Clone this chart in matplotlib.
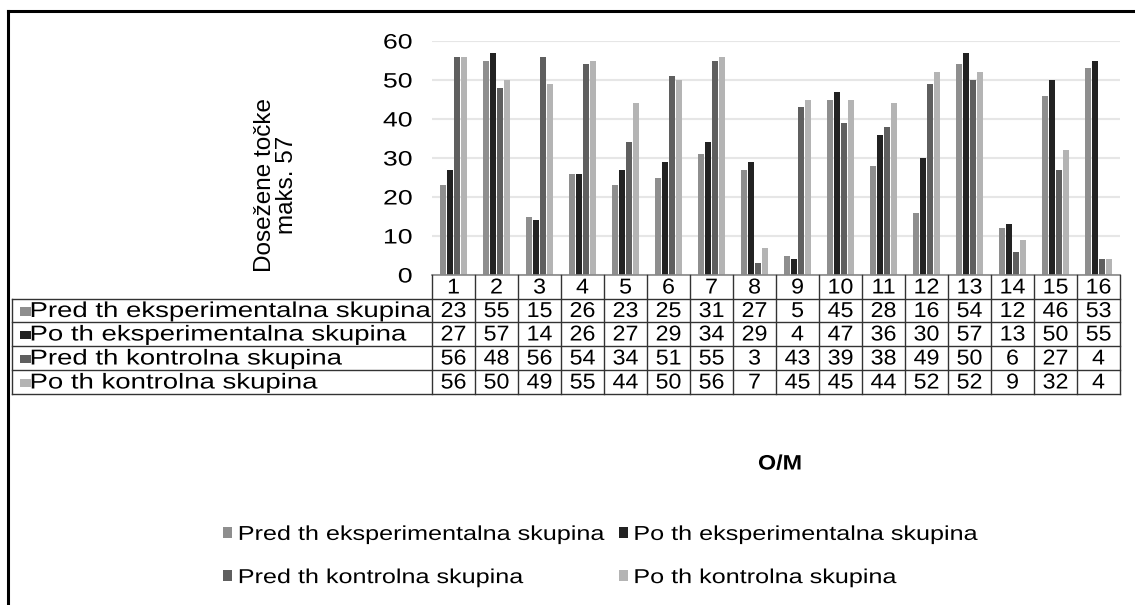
import matplotlib
matplotlib.use("Agg")
import matplotlib.pyplot as plt
from matplotlib.lines import Line2D
from matplotlib.patches import Patch
from matplotlib.patheffects import AbstractPathEffect
from matplotlib.transforms import Affine2D

plt.rcParams['font.family'] = ['Liberation Sans', 'DejaVu Sans']

categories = [str(i) for i in range(1, 17)]
series_names = ["Pred th eksperimentalna skupina", "Po th eksperimentalna skupina",
                "Pred th kontrolna skupina", "Po th kontrolna skupina"]
pred_eksp = [23, 55, 15, 26, 23, 25, 31, 27, 5, 45, 28, 16, 54, 12, 46, 53]
po_eksp = [27, 57, 14, 26, 27, 29, 34, 29, 4, 47, 36, 30, 57, 13, 50, 55]
pred_kontr = [56, 48, 56, 54, 34, 51, 55, 3, 43, 39, 38, 49, 50, 6, 27, 4]
po_kontr = [56, 50, 49, 55, 44, 50, 56, 7, 45, 45, 44, 52, 52, 9, 32, 4]
yticks = [0, 10, 20, 30, 40, 50, 60]
ylabel = "Dosežene točke\nmaks. 57"
xlabel = "O/M"

series = [pred_eksp, po_eksp, pred_kontr, po_kontr]
colors = ["#8e8e8e", "#222222", "#5f5f5f", "#b4b4b4"]


class HStretch(AbstractPathEffect):
    """Widen glyphs horizontally (the reference image is horizontally stretched)."""
    def __init__(self, sx, anchor=0.5):
        super().__init__()
        self.sx = sx
        self.anchor = anchor

    def draw_path(self, renderer, gc, tpath, affine, rgbFace=None):
        ext = tpath.get_extents(affine)
        ax0 = ext.x0 + self.anchor * (ext.x1 - ext.x0)
        new = affine + Affine2D().translate(-ax0, 0).scale(self.sx, 1).translate(ax0, 0)
        renderer.draw_path(gc, tpath, new, rgbFace)


SX = 1.28
SX_NUM = 1.08
W, H = 1135, 605
fig = plt.figure(figsize=(W / 100, H / 100), dpi=100)

def fx(px):
    return px / W

def fy(py):
    return 1 - py / H

ax_l, ax_r, ax_t, ax_b = 432, 1120, 41, 275
ax = fig.add_axes([fx(ax_l), fy(ax_b), fx(ax_r - ax_l), (ax_b - ax_t) / H])
n = len(categories)
xs = list(range(n))
pitch = 0.165
bw = 0.135
for k, (vals, c) in enumerate(zip(series, colors)):
    off = (k - 1.5) * pitch
    ax.bar([x + off for x in xs], vals, width=bw, color=c, edgecolor='none', zorder=3)
ax.set_xlim(-0.5, n - 0.5)
ax.set_ylim(0, 60)
ax.set_yticks(yticks)
ax.set_xticks([])
for s in ax.spines.values():
    s.set_visible(False)
ax.tick_params(axis='y', length=0, pad=14, labelsize=15)
ax.grid(axis='y', color='#e6e6e6', lw=1.5, zorder=0)
ax.set_axisbelow(True)

fs = 15.5
row_tops = [275, 299, 322, 346, 370, 394]
tab_left = 12
line_kw = dict(color='#333333', lw=1.0, transform=fig.transFigure, clip_on=False)

fig.canvas.draw()
for lab in ax.get_yticklabels():
    lab.set_path_effects([HStretch(SX, anchor=1.0)])

edges = [ax.transData.transform((i - 0.5, 0))[0] for i in range(n + 1)]
fig.add_artist(Line2D([fx(edges[0]), fx(edges[-1])], [fy(row_tops[0])] * 2, color='#888888', lw=1.2,
                      transform=fig.transFigure))
for r in row_tops[1:]:
    fig.add_artist(Line2D([fx(tab_left), fx(edges[-1])], [fy(r)] * 2, **line_kw))
for e in edges:
    fig.add_artist(Line2D([fx(e), fx(e)], [fy(row_tops[0]), fy(row_tops[-1])], **line_kw))
fig.add_artist(Line2D([fx(tab_left), fx(tab_left)], [fy(row_tops[1]), fy(row_tops[-1])], **line_kw))

num_fx = [HStretch(SX_NUM, anchor=0.5)]
left_fx = [HStretch(SX, anchor=0.0)]
for i, cat in enumerate(categories):
    cx = (edges[i] + edges[i + 1]) / 2
    fig.text(fx(cx), fy((row_tops[0] + row_tops[1]) / 2 + 1), cat, ha='center', va='center',
             fontsize=fs, path_effects=num_fx)
    for k, vals in enumerate(series):
        cy = (row_tops[k + 1] + row_tops[k + 2]) / 2 + 1
        fig.text(fx(cx), fy(cy), str(vals[i]), ha='center', va='center', fontsize=fs,
                 path_effects=num_fx)
for k, name in enumerate(series_names):
    cy = (row_tops[k + 1] + row_tops[k + 2]) / 2 + 1
    fig.text(fx(tab_left + 7), fy(cy), "■", color=colors[k], ha='left', va='center', fontsize=8,
             family='DejaVu Sans', path_effects=left_fx)
    fig.text(fx(tab_left + 18), fy(cy), name, ha='left', va='center', fontsize=fs,
             path_effects=left_fx)

fig.text(fx(276), fy(185), ylabel, rotation=90, ha='center', va='center', fontsize=17.5,
         multialignment='center', linespacing=1.05)
fig.text(fx((ax_l + ax_r) / 2 + 4), fy(464), xlabel, ha='center', va='center', fontsize=15,
         fontweight='bold', path_effects=[HStretch(1.12, anchor=0.5)])

order = [0, 2, 1, 3]
handles = [Patch(facecolor=colors[i], edgecolor='none') for i in order]
labels = [series_names[i] for i in order]
lfs = 14.5
leg = fig.legend(handles, labels, ncol=2, loc='center left', bbox_to_anchor=(fx(213), fy(556)),
                 frameon=False, fontsize=lfs, handlelength=0.45, handleheight=0.45, handletextpad=0.3,
                 columnspacing=4.3, labelspacing=1.2, borderpad=0.0)
for t in leg.get_texts():
    t.set_path_effects([HStretch(1.25, anchor=0.0)])

fig.add_artist(Line2D([fx(8), 1], [fy(11), fy(11)], color='black', lw=2.2, transform=fig.transFigure))
fig.add_artist(Line2D([fx(8), fx(8)], [fy(11), 0], color='black', lw=2.2, transform=fig.transFigure))

fig.savefig("out.png", dpi=100)
